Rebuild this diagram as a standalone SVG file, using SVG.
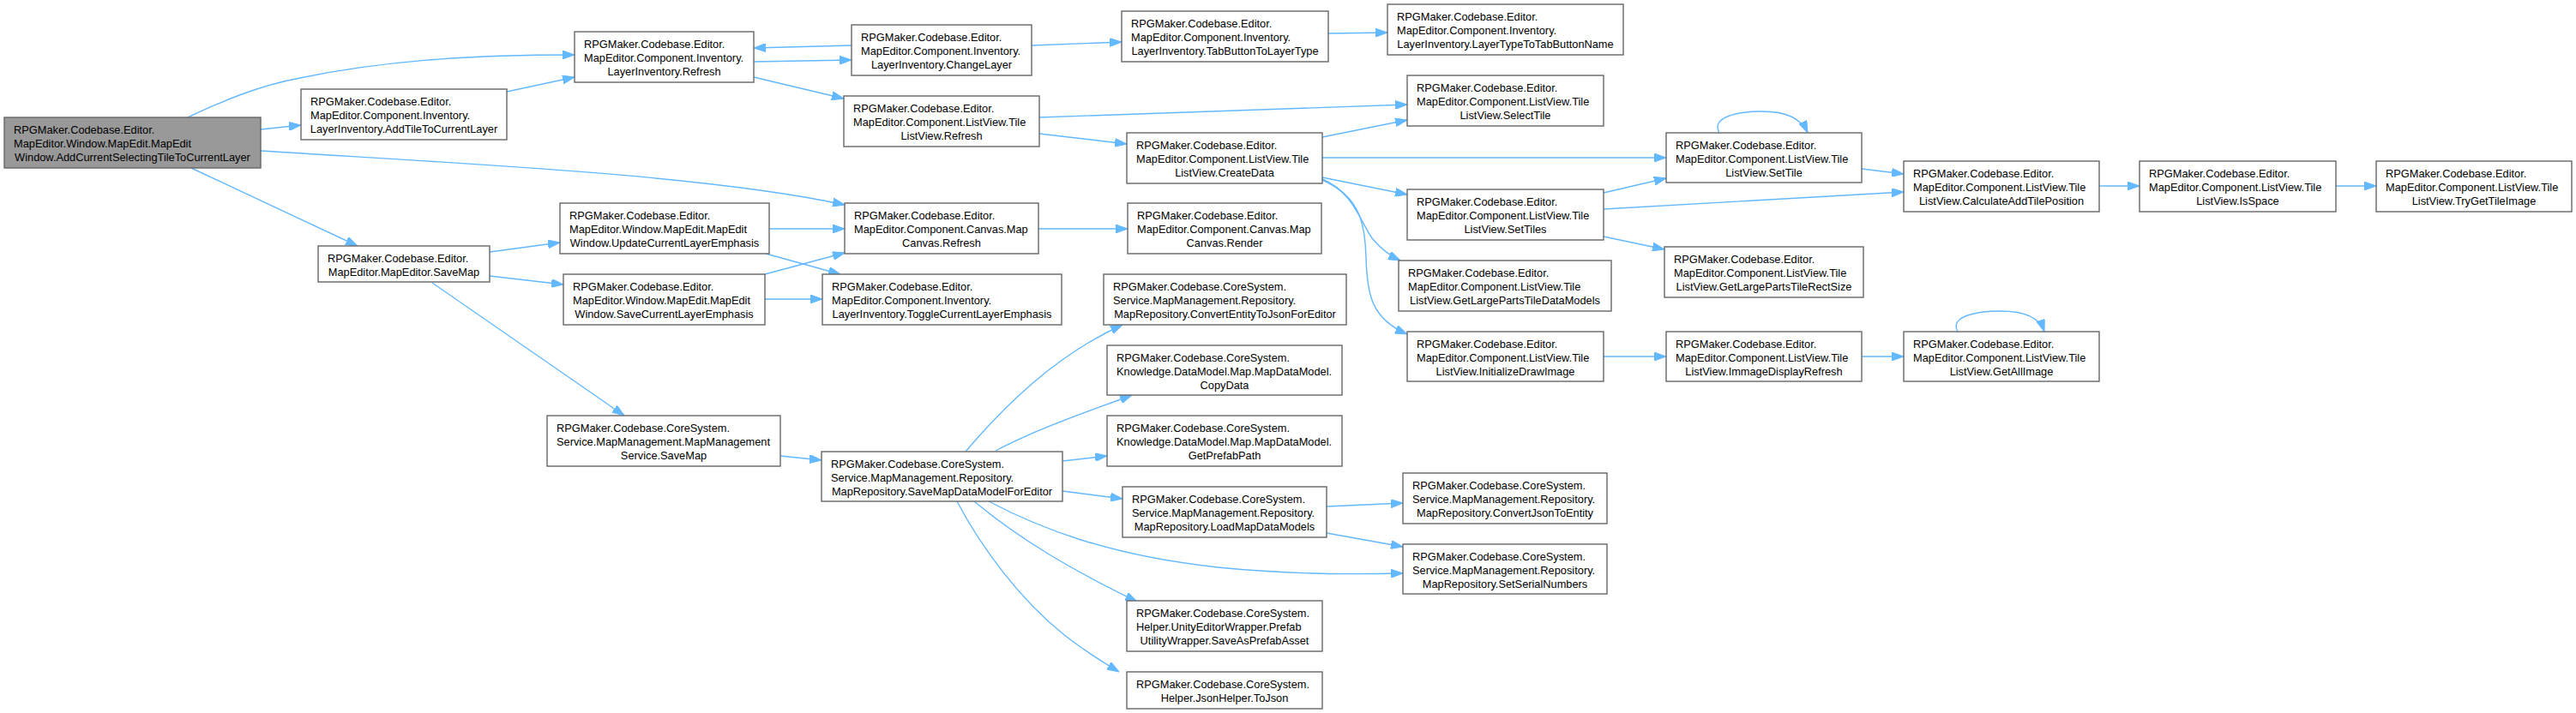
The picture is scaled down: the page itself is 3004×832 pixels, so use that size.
<svg xmlns="http://www.w3.org/2000/svg" width="3004" height="832" viewBox="0 0 3004 832">
<style>
.n rect{fill:#ffffff;stroke:#666666;stroke-width:1.4}
.n.hl rect{fill:#999999}
.n text{font-family:"Liberation Sans",Arial,sans-serif;font-size:12.8px;fill:#000000}
.n text.c{text-anchor:middle}
.e path{fill:none;stroke:#63b8ff;stroke-width:1.4;marker-end:url(#ah)}
</style>
<defs>
<marker id="ah" viewBox="0 0 14 10" refX="14" refY="5" markerWidth="14" markerHeight="10" markerUnits="userSpaceOnUse" orient="auto">
<path d="M0,0 L14,5 L0,10 z" fill="#63b8ff" stroke="#63b8ff" stroke-width="1"/>
</marker>
</defs>
<rect width="3004" height="832" fill="#ffffff"/>
<g id="edges" class="e">
<path d="M219,137 C255,120 300,100 350,91 C440,72 540,64 670,64"/>
<path d="M304,151 L351,146"/>
<path d="M591,107 L670,90"/>
<path d="M304,176 C520,190 820,203 985,239"/>
<path d="M223,196 L417,287"/>
<path d="M879,72 L993,70"/>
<path d="M993,53 L879,56"/>
<path d="M879,90 L984,115"/>
<path d="M1203,53 L1308,49"/>
<path d="M1549,39 L1618,38"/>
<path d="M1212,137 L1641,122"/>
<path d="M1212,156 L1314,168"/>
<path d="M1542,160 L1641,140"/>
<path d="M1542,184 L1943,184"/>
<path d="M1542,207 L1641,227"/>
<path d="M1542,209 C1578,224 1586,258 1600,278 C1610,290 1620,298 1633,304"/>
<path d="M1542,210 C1588,230 1592,265 1593,300 C1594,345 1600,372 1641,390"/>
<path d="M2005,155 C1995,137 2025,130 2055,130 C2080,130 2100,137 2108,155"/>
<path d="M2171,197 L2220,203"/>
<path d="M1870,225 L1943,208"/>
<path d="M1870,244 L2220,224"/>
<path d="M1870,276 L1941,291"/>
<path d="M2448,217 L2495,217"/>
<path d="M2724,217 L2771,217"/>
<path d="M1870,416 L1943,416"/>
<path d="M2171,416 L2220,416"/>
<path d="M2283,387 C2273,369 2305,363 2333,363 C2358,363 2378,369 2384,387"/>
<path d="M1211,267 L1315,267"/>
<path d="M571,294 L653,283"/>
<path d="M571,322 L657,332"/>
<path d="M504,330 L728,485"/>
<path d="M897,267 L985,267"/>
<path d="M893,296 L980,320"/>
<path d="M892,320 L985,295"/>
<path d="M892,349 L959,349"/>
<path d="M910,532 L958,537"/>
<path d="M1126,527 C1170,475 1230,415 1309,379"/>
<path d="M1161,526 C1210,500 1270,480 1320,461"/>
<path d="M1239,538 L1291,532"/>
<path d="M1239,573 L1309,582"/>
<path d="M1153,585 C1210,615 1290,648 1420,662 C1510,671 1580,670 1636,669"/>
<path d="M1136,585 C1190,630 1250,665 1326,702"/>
<path d="M1116,585 C1145,640 1190,700 1240,740 C1265,760 1285,772 1305,784"/>
<path d="M1547,591 L1636,587"/>
<path d="M1547,622 L1636,638"/>
</g>
<g id="node-main" class="n hl"><rect x="5" y="137" width="299" height="59"/><text x="16" y="155.5">RPGMaker.Codebase.Editor.</text><text x="16" y="171.5">MapEditor.Window.MapEdit.MapEdit</text><text class="c" x="154.5" y="187.5">Window.AddCurrentSelectingTileToCurrentLayer</text></g>
<g id="node-addtile" class="n"><rect x="351" y="104" width="240" height="59"/><text x="362" y="122.5">RPGMaker.Codebase.Editor.</text><text x="362" y="138.5">MapEditor.Component.Inventory.</text><text class="c" x="471" y="154.5">LayerInventory.AddTileToCurrentLayer</text></g>
<g id="node-savemap" class="n"><rect x="371" y="287" width="200" height="42"/><text x="382" y="305.5">RPGMaker.Codebase.Editor.</text><text class="c" x="471" y="321.5">MapEditor.MapEditor.SaveMap</text></g>
<g id="node-lirefresh" class="n"><rect x="670" y="37" width="209" height="59"/><text x="681" y="55.5">RPGMaker.Codebase.Editor.</text><text x="681" y="71.5">MapEditor.Component.Inventory.</text><text class="c" x="774.5" y="87.5">LayerInventory.Refresh</text></g>
<g id="node-changelayer" class="n"><rect x="993" y="29" width="210" height="59"/><text x="1004" y="47.5">RPGMaker.Codebase.Editor.</text><text x="1004" y="63.5">MapEditor.Component.Inventory.</text><text class="c" x="1098" y="79.5">LayerInventory.ChangeLayer</text></g>
<g id="node-tlvrefresh" class="n"><rect x="984" y="112" width="228" height="59"/><text x="995" y="130.5">RPGMaker.Codebase.Editor.</text><text x="995" y="146.5">MapEditor.Component.ListView.Tile</text><text class="c" x="1098" y="162.5">ListView.Refresh</text></g>
<g id="node-updateemph" class="n"><rect x="653" y="237" width="244" height="59"/><text x="664" y="255.5">RPGMaker.Codebase.Editor.</text><text x="664" y="271.5">MapEditor.Window.MapEdit.MapEdit</text><text class="c" x="775" y="287.5">Window.UpdateCurrentLayerEmphasis</text></g>
<g id="node-mcrefresh" class="n"><rect x="985" y="237" width="226" height="59"/><text x="996" y="255.5">RPGMaker.Codebase.Editor.</text><text x="996" y="271.5">MapEditor.Component.Canvas.Map</text><text class="c" x="1098" y="287.5">Canvas.Refresh</text></g>
<g id="node-saveemph" class="n"><rect x="657" y="320" width="235" height="59"/><text x="668" y="338.5">RPGMaker.Codebase.Editor.</text><text x="668" y="354.5">MapEditor.Window.MapEdit.MapEdit</text><text class="c" x="774.5" y="370.5">Window.SaveCurrentLayerEmphasis</text></g>
<g id="node-toggle" class="n"><rect x="959" y="320" width="279" height="59"/><text x="970" y="338.5">RPGMaker.Codebase.Editor.</text><text x="970" y="354.5">MapEditor.Component.Inventory.</text><text class="c" x="1098.5" y="370.5">LayerInventory.ToggleCurrentLayerEmphasis</text></g>
<g id="node-tabbtn" class="n"><rect x="1308" y="13" width="241" height="59"/><text x="1319" y="31.5">RPGMaker.Codebase.Editor.</text><text x="1319" y="47.5">MapEditor.Component.Inventory.</text><text class="c" x="1428.5" y="63.5">LayerInventory.TabButtonToLayerType</text></g>
<g id="node-layertypeto" class="n"><rect x="1618" y="5" width="275" height="59"/><text x="1629" y="23.5">RPGMaker.Codebase.Editor.</text><text x="1629" y="39.5">MapEditor.Component.Inventory.</text><text class="c" x="1755.5" y="55.5">LayerInventory.LayerTypeToTabButtonName</text></g>
<g id="node-selecttile" class="n"><rect x="1641" y="88" width="229" height="59"/><text x="1652" y="106.5">RPGMaker.Codebase.Editor.</text><text x="1652" y="122.5">MapEditor.Component.ListView.Tile</text><text class="c" x="1755.5" y="138.5">ListView.SelectTile</text></g>
<g id="node-createdata" class="n"><rect x="1314" y="155" width="228" height="59"/><text x="1325" y="173.5">RPGMaker.Codebase.Editor.</text><text x="1325" y="189.5">MapEditor.Component.ListView.Tile</text><text class="c" x="1428" y="205.5">ListView.CreateData</text></g>
<g id="node-render" class="n"><rect x="1315" y="237" width="226" height="59"/><text x="1326" y="255.5">RPGMaker.Codebase.Editor.</text><text x="1326" y="271.5">MapEditor.Component.Canvas.Map</text><text class="c" x="1428" y="287.5">Canvas.Render</text></g>
<g id="node-settiles" class="n"><rect x="1641" y="221" width="229" height="59"/><text x="1652" y="239.5">RPGMaker.Codebase.Editor.</text><text x="1652" y="255.5">MapEditor.Component.ListView.Tile</text><text class="c" x="1755.5" y="271.5">ListView.SetTiles</text></g>
<g id="node-getlptdm" class="n"><rect x="1631" y="304" width="248" height="59"/><text x="1642" y="322.5">RPGMaker.Codebase.Editor.</text><text x="1642" y="338.5">MapEditor.Component.ListView.Tile</text><text class="c" x="1755" y="354.5">ListView.GetLargePartsTileDataModels</text></g>
<g id="node-initdraw" class="n"><rect x="1641" y="387" width="229" height="58"/><text x="1652" y="405.5">RPGMaker.Codebase.Editor.</text><text x="1652" y="421.5">MapEditor.Component.ListView.Tile</text><text class="c" x="1755.5" y="437.5">ListView.InitializeDrawImage</text></g>
<g id="node-settile" class="n"><rect x="1943" y="155" width="228" height="58"/><text x="1954" y="173.5">RPGMaker.Codebase.Editor.</text><text x="1954" y="189.5">MapEditor.Component.ListView.Tile</text><text class="c" x="2057" y="205.5">ListView.SetTile</text></g>
<g id="node-calcadd" class="n"><rect x="2220" y="188" width="228" height="59"/><text x="2231" y="206.5">RPGMaker.Codebase.Editor.</text><text x="2231" y="222.5">MapEditor.Component.ListView.Tile</text><text class="c" x="2334" y="238.5">ListView.CalculateAddTilePosition</text></g>
<g id="node-getlptrs" class="n"><rect x="1941" y="288" width="232" height="59"/><text x="1952" y="306.5">RPGMaker.Codebase.Editor.</text><text x="1952" y="322.5">MapEditor.Component.ListView.Tile</text><text class="c" x="2057" y="338.5">ListView.GetLargePartsTileRectSize</text></g>
<g id="node-immdisp" class="n"><rect x="1943" y="387" width="228" height="58"/><text x="1954" y="405.5">RPGMaker.Codebase.Editor.</text><text x="1954" y="421.5">MapEditor.Component.ListView.Tile</text><text class="c" x="2057" y="437.5">ListView.ImmageDisplayRefresh</text></g>
<g id="node-getallimage" class="n"><rect x="2220" y="387" width="228" height="58"/><text x="2231" y="405.5">RPGMaker.Codebase.Editor.</text><text x="2231" y="421.5">MapEditor.Component.ListView.Tile</text><text class="c" x="2334" y="437.5">ListView.GetAllImage</text></g>
<g id="node-isspace" class="n"><rect x="2495" y="188" width="229" height="59"/><text x="2506" y="206.5">RPGMaker.Codebase.Editor.</text><text x="2506" y="222.5">MapEditor.Component.ListView.Tile</text><text class="c" x="2609.5" y="238.5">ListView.IsSpace</text></g>
<g id="node-trygettileimage" class="n"><rect x="2771" y="188" width="228" height="59"/><text x="2782" y="206.5">RPGMaker.Codebase.Editor.</text><text x="2782" y="222.5">MapEditor.Component.ListView.Tile</text><text class="c" x="2885" y="238.5">ListView.TryGetTileImage</text></g>
<g id="node-convertentity" class="n"><rect x="1287" y="320" width="283" height="59"/><text x="1298" y="338.5">RPGMaker.Codebase.CoreSystem.</text><text x="1298" y="354.5">Service.MapManagement.Repository.</text><text class="c" x="1428.5" y="370.5">MapRepository.ConvertEntityToJsonForEditor</text></g>
<g id="node-mmssavemap" class="n"><rect x="638" y="485" width="272" height="59"/><text x="649" y="503.5">RPGMaker.Codebase.CoreSystem.</text><text x="649" y="519.5">Service.MapManagement.MapManagement</text><text class="c" x="774" y="535.5">Service.SaveMap</text></g>
<g id="node-savemapdatamodel" class="n"><rect x="958" y="527" width="281" height="58"/><text x="969" y="545.5">RPGMaker.Codebase.CoreSystem.</text><text x="969" y="561.5">Service.MapManagement.Repository.</text><text class="c" x="1098.5" y="577.5">MapRepository.SaveMapDataModelForEditor</text></g>
<g id="node-copydata" class="n"><rect x="1291" y="403" width="274" height="58"/><text x="1302" y="421.5">RPGMaker.Codebase.CoreSystem.</text><text x="1302" y="437.5">Knowledge.DataModel.Map.MapDataModel.</text><text class="c" x="1428" y="453.5">CopyData</text></g>
<g id="node-getprefabpath" class="n"><rect x="1291" y="485" width="274" height="59"/><text x="1302" y="503.5">RPGMaker.Codebase.CoreSystem.</text><text x="1302" y="519.5">Knowledge.DataModel.Map.MapDataModel.</text><text class="c" x="1428" y="535.5">GetPrefabPath</text></g>
<g id="node-loadmapdatamodels" class="n"><rect x="1309" y="568" width="238" height="59"/><text x="1320" y="586.5">RPGMaker.Codebase.CoreSystem.</text><text x="1320" y="602.5">Service.MapManagement.Repository.</text><text class="c" x="1428" y="618.5">MapRepository.LoadMapDataModels</text></g>
<g id="node-convertjson" class="n"><rect x="1636" y="552" width="238" height="59"/><text x="1647" y="570.5">RPGMaker.Codebase.CoreSystem.</text><text x="1647" y="586.5">Service.MapManagement.Repository.</text><text class="c" x="1755" y="602.5">MapRepository.ConvertJsonToEntity</text></g>
<g id="node-setserial" class="n"><rect x="1636" y="635" width="238" height="58"/><text x="1647" y="653.5">RPGMaker.Codebase.CoreSystem.</text><text x="1647" y="669.5">Service.MapManagement.Repository.</text><text class="c" x="1755" y="685.5">MapRepository.SetSerialNumbers</text></g>
<g id="node-saveasprefab" class="n"><rect x="1314" y="701" width="228" height="59"/><text x="1325" y="719.5">RPGMaker.Codebase.CoreSystem.</text><text x="1325" y="735.5">Helper.UnityEditorWrapper.Prefab</text><text class="c" x="1428" y="751.5">UtilityWrapper.SaveAsPrefabAsset</text></g>
<g id="node-tojson" class="n"><rect x="1314" y="784" width="228" height="43"/><text x="1325" y="802.5">RPGMaker.Codebase.CoreSystem.</text><text class="c" x="1428" y="818.5">Helper.JsonHelper.ToJson</text></g>
</svg>
